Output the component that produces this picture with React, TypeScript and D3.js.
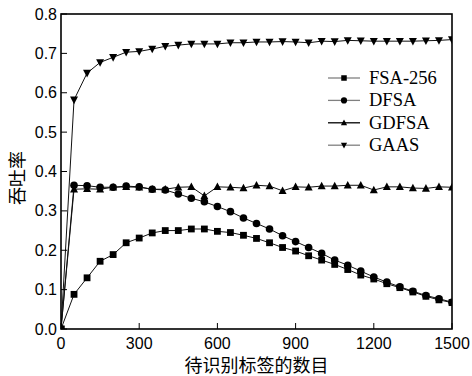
import React from "react";
import * as d3 from "d3";

const xValues = [0, 50, 100, 150, 200, 250, 300, 350, 400, 450, 500, 550, 600, 650, 700, 750, 800, 850, 900, 950, 1000, 1050, 1100, 1150, 1200, 1250, 1300, 1350, 1400, 1450, 1500];

const fsa256 = [0, 0.088, 0.130, 0.172, 0.189, 0.219, 0.231, 0.244, 0.250, 0.250, 0.254, 0.254, 0.248, 0.245, 0.238, 0.230, 0.219, 0.207, 0.198, 0.186, 0.175, 0.164, 0.151, 0.137, 0.127, 0.115, 0.105, 0.094, 0.083, 0.074, 0.067];
const dfsa = [0, 0.365, 0.364, 0.360, 0.360, 0.363, 0.361, 0.355, 0.353, 0.343, 0.332, 0.323, 0.311, 0.298, 0.282, 0.268, 0.254, 0.237, 0.222, 0.207, 0.192, 0.175, 0.162, 0.147, 0.132, 0.119, 0.107, 0.096, 0.085, 0.077, 0.068];
const gdfsa = [0, 0.355, 0.356, 0.355, 0.360, 0.361, 0.360, 0.355, 0.355, 0.360, 0.361, 0.338, 0.361, 0.360, 0.358, 0.365, 0.363, 0.351, 0.361, 0.360, 0.363, 0.363, 0.365, 0.365, 0.353, 0.361, 0.361, 0.358, 0.357, 0.361, 0.360];
const gaas = [0, 0.582, 0.650, 0.677, 0.690, 0.703, 0.705, 0.711, 0.718, 0.721, 0.724, 0.724, 0.724, 0.727, 0.727, 0.729, 0.729, 0.730, 0.729, 0.727, 0.731, 0.730, 0.733, 0.732, 0.731, 0.731, 0.731, 0.731, 0.732, 0.733, 0.735];

const seriesNames = ["FSA-256", "DFSA", "GDFSA", "GAAS"];
const xTicks = [0, 300, 600, 900, 1200, 1500];
const yTicks = [0.0, 0.1, 0.2, 0.3, 0.4, 0.5, 0.6, 0.7, 0.8];
const xTitle = "待识别标签的数目";
const yTitle = "吞吐率";

const W = 472, H = 376;
const L = 61, R = 452, T = 14, B = 329;

function Marker({ kind, x, y, s }: { kind: string; x: number; y: number; s: number }) {
  if (kind === "square") return <rect x={x - s / 2} y={y - s / 2} width={s} height={s} fill="#000" />;
  if (kind === "circle") return <circle cx={x} cy={y} r={s / 2} fill="#000" />;
  const h = s * 0.9;
  if (kind === "up")
    return <path d={`M${x},${y - h * 0.6}L${x + s / 2},${y + h * 0.45}L${x - s / 2},${y + h * 0.45}Z`} fill="#000" />;
  return <path d={`M${x},${y + h * 0.6}L${x + s / 2},${y - h * 0.45}L${x - s / 2},${y - h * 0.45}Z`} fill="#000" />;
}

export default function App() {
  const x = d3.scaleLinear().domain([0, 1500]).range([L, R]);
  const y = d3.scaleLinear().domain([0, 0.8]).range([B, T]);
  const series = [
    { name: seriesNames[0], vals: fsa256, kind: "square", legendColor: "#808080", size: 6.8 },
    { name: seriesNames[1], vals: dfsa, kind: "circle", legendColor: "#808080", size: 7.6 },
    { name: seriesNames[2], vals: gdfsa, kind: "up", legendColor: "#000", size: 8 },
    { name: seriesNames[3], vals: gaas, kind: "down", legendColor: "#808080", size: 8 },
  ];
  const line = d3.line<number>().x((_, i) => x(xValues[i])).y((v) => y(v));
  const sans = "'Liberation Sans', Arial, sans-serif";
  const serif = "'Liberation Serif', 'Times New Roman', serif";
  const cjk = "'Noto Sans CJK SC', sans-serif";
  return (
    <svg width={W} height={H} style={{ position: "absolute", left: 0, top: 0, background: "#fff" }}>
      <defs>
        <clipPath id="plotclip">
          <rect x={L} y={T} width={R - L} height={B - T} />
        </clipPath>
      </defs>
      <rect x={0} y={0} width={W} height={H} fill="#fff" />
      <g clipPath="url(#plotclip)">
        {series.map((s) => (
          <g key={s.name}>
            <path d={line(s.vals) || ""} fill="none" stroke="#111" strokeWidth={1} />
            {s.vals.map((v, i) => (
              <Marker key={i} kind={s.kind} x={x(xValues[i])} y={y(v)} s={s.size} />
            ))}
          </g>
        ))}
      </g>
      {xTicks.map((t) => (
        <g key={t}>
          <line x1={x(t)} x2={x(t)} y1={B} y2={B - 6} stroke="#000" strokeWidth={1} />
          <text x={x(t)} y={349} textAnchor="middle" fontFamily={sans} fontSize={16} fill="#000">
            {t}
          </text>
        </g>
      ))}
      {yTicks.map((t) => (
        <g key={t}>
          <line x1={L} x2={L + 6} y1={y(t)} y2={y(t)} stroke="#000" strokeWidth={1} />
          <text x={57} y={y(t) + 5.5} textAnchor="end" fontFamily={sans} fontSize={16} fill="#000">
            {t.toFixed(1)}
          </text>
        </g>
      ))}
      <rect x={L} y={T} width={R - L} height={B - T} fill="none" stroke="#000" strokeWidth={1.6} />
      {series.map((s, i) => {
        const cy = 78 + i * 22.4;
        return (
          <g key={s.name}>
            <line x1={328} x2={360} y1={cy} y2={cy} stroke={s.legendColor} strokeWidth={1.3} />
            <Marker kind={s.kind} x={344} y={cy} s={s.kind === "square" ? 5.5 : 6.2} />
            <text x={369} y={cy + 6} fontFamily={serif} fontSize={18.5} fill="#000">
              {s.name}
            </text>
          </g>
        );
      })}
      <text x={(L + R) / 2} y={372} textAnchor="middle" fontFamily={cjk} fontSize={18} fill="#000">
        {xTitle}
      </text>
      <text transform={`translate(24,${178}) rotate(-90)`} textAnchor="middle" fontFamily={cjk} fontSize={18} fill="#000">
        {yTitle}
      </text>
    </svg>
  );
}
